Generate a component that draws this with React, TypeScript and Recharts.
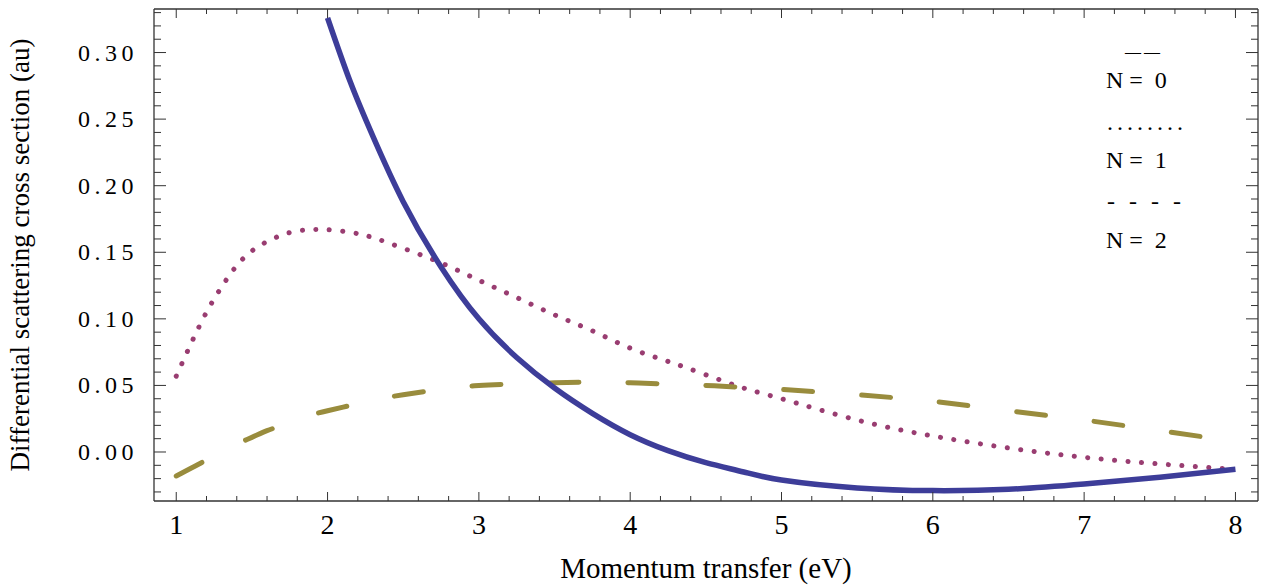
import React from 'react';
import { LineChart, Line, XAxis, YAxis, Legend } from 'recharts';

// ---- data ----
const xValues = [1, 1.1, 1.2, 1.3, 1.4, 1.5, 1.6, 1.7, 1.8, 1.9, 2, 2.15, 2.3, 2.5, 2.75, 3, 3.25, 3.5, 3.75, 4, 4.25, 4.5, 4.75, 5, 5.5, 6, 6.5, 7, 7.5, 8];
const n0Values: (number | null)[] = [null, null, null, null, null, null, null, null, null, null, 0.326, 0.278, 0.237, 0.188, 0.139, 0.1, 0.071, 0.048, 0.029, 0.013, 0.001, -0.008, -0.015, -0.021, -0.027, -0.029, -0.028, -0.024, -0.019, -0.013];
const n1Values = [0.057, 0.082, 0.105, 0.124, 0.14, 0.151, 0.158, 0.163, 0.166, 0.167, 0.167, 0.165, 0.161, 0.153, 0.142, 0.129, 0.116, 0.103, 0.091, 0.078, 0.068, 0.058, 0.048, 0.04, 0.024, 0.012, 0.003, -0.004, -0.009, -0.013];
const n2Values = [-0.018, -0.012, -0.006, 0.0, 0.006, 0.011, 0.016, 0.02, 0.024, 0.028, 0.031, 0.035, 0.039, 0.043, 0.047, 0.05, 0.051, 0.052, 0.0525, 0.052, 0.051, 0.05, 0.0485, 0.047, 0.043, 0.038, 0.031, 0.024, 0.016, 0.008];

const seriesNames = ['N = \u00a00', 'N = \u00a01', 'N = \u00a02'];
const legendGlyphs = ['\u2014\u2014', '........', '- - - -'];

const xMajorTicks = [1, 2, 3, 4, 5, 6, 7, 8];
const xTickLabels = ['1', '2', '3', '4', '5', '6', '7', '8'];
const yMajorTicks = [0, 0.05, 0.1, 0.15, 0.2, 0.25, 0.3];
const yTickLabels = ['0.00', '0.05', '0.10', '0.15', '0.20', '0.25', '0.30'];
const xAllTicks = Array.from({ length: 36 }, (_, i) => +(1 + i * 0.2).toFixed(1));
const yAllTicks = Array.from({ length: 37 }, (_, i) => +(-0.03 + i * 0.01).toFixed(2));

const xDomain: [number, number] = [0.853, 8.149];
const yDomain: [number, number] = [-0.0368, 0.3327];

const data = xValues.map((x, i) => ({ x, n0: n0Values[i], n1: n1Values[i], n2: n2Values[i] }));

// ---- style ----
const FONT = "'Liberation Serif', 'Times New Roman', serif";
const FRAME = '#333';
const BLUE = '#3d3d99';
const PURPLE = '#993d71';
const OLIVE = '#998c3d';

const near = (a: number, b: number, eps: number) => Math.abs(a - b) < eps;
const xLabelOf = (v: number) => {
  const i = xMajorTicks.findIndex((m) => near(m, v, 1e-6));
  return i >= 0 ? xTickLabels[i] : null;
};
const yLabelOf = (v: number) => {
  const i = yMajorTicks.findIndex((m) => near(m, v, 1e-6));
  return i >= 0 ? yTickLabels[i] : null;
};

const BottomTick = (props: any) => {
  const { x, y, payload } = props;
  const lab = xLabelOf(payload.value);
  return (
    <g>
      <line x1={x} x2={x} y1={y} y2={y - (lab ? 9 : 5)} stroke={FRAME} strokeWidth={1} />
      {lab && (
        <text x={x} y={y + 33} textAnchor="middle" fontFamily={FONT} fontSize={28} fill="#000">
          {lab}
        </text>
      )}
    </g>
  );
};
const TopTick = (props: any) => {
  const { x, y, payload } = props;
  const lab = xLabelOf(payload.value);
  return <line x1={x} x2={x} y1={y} y2={y + (lab ? 9 : 5)} stroke={FRAME} strokeWidth={1} />;
};
const LeftTick = (props: any) => {
  const { x, y, payload } = props;
  const lab = yLabelOf(payload.value);
  return (
    <g>
      <line x1={x} x2={x + (lab ? 12 : 7)} y1={y} y2={y} stroke={FRAME} strokeWidth={1} />
      {lab && (
        <text x={x - 16} y={y + 8} textAnchor="end" fontFamily={FONT} fontSize={24} letterSpacing={4.5} fill="#000">
          {lab}
        </text>
      )}
    </g>
  );
};
const RightTick = (props: any) => {
  const { x, y, payload } = props;
  const lab = yLabelOf(payload.value);
  return <line x1={x} x2={x - (lab ? 12 : 7)} y1={y} y2={y} stroke={FRAME} strokeWidth={1} />;
};

const YLabel = (props: any) => {
  const vb = props.viewBox || {};
  const cx = (vb.x ?? 0) + 20;
  const cy = (vb.y ?? 0) + (vb.height ?? 0) / 2;
  return (
    <text x={cx} y={cy} transform={`rotate(-90, ${cx}, ${cy})`} textAnchor="middle" dominantBaseline="central" fontFamily={FONT} fontSize={27} fill="#000">
      Differential scattering cross section (au)
    </text>
  );
};
const XLabel = (props: any) => {
  const vb = props.viewBox || {};
  const cx = (vb.x ?? 0) + (vb.width ?? 0) / 2;
  const y = (vb.y ?? 0) + 77;
  return (
    <text x={cx} y={y} textAnchor="middle" fontFamily={FONT} fontSize={29} fill="#000">
      Momentum transfer (eV)
    </text>
  );
};

const LegendContent = () => (
  <svg width={160} height={230} style={{ display: 'block', overflow: 'visible' }}>
    {seriesNames.map((name, i) => {
      const base = i * 80;
      const glyph = legendGlyphs[i];
      const glyphStyle =
        i === 0
          ? { fontSize: 16, letterSpacing: 3, y: base + 27, x: 19 }
          : i === 1
          ? { fontSize: 24, letterSpacing: 4, y: base + 20, x: 1 }
          : { fontSize: 24, letterSpacing: 4, y: base + 19, x: 1 };
      return (
        <g key={i}>
          <text x={glyphStyle.x} y={glyphStyle.y} fontFamily={FONT} fontSize={glyphStyle.fontSize} letterSpacing={glyphStyle.letterSpacing} fill="#000" style={{ whiteSpace: 'pre' }}>
            {glyph}
          </text>
          <text x={0} y={base + 58} fontFamily={FONT} fontSize={24} fill="#000" style={{ whiteSpace: 'pre' }}>
            {name}
          </text>
        </g>
      );
    })}
  </svg>
);

export default function App() {
  return (
    <div style={{ position: 'absolute', left: 0, top: 0, width: 1261, height: 588, background: '#fff' }}>
      <LineChart width={1261} height={588} data={data} margin={{ top: 0, right: 0, bottom: 0, left: 0 }}>
        <XAxis
          xAxisId="b"
          dataKey="x"
          type="number"
          orientation="bottom"
          domain={xDomain}
          allowDataOverflow
          ticks={xAllTicks}
          interval={0}
          height={87}
          tickSize={0}
          tickMargin={0}
          tickLine={false}
          axisLine={{ stroke: FRAME, strokeWidth: 1.3 }}
          tick={<BottomTick />}
          label={<XLabel />}
        />
        <XAxis
          xAxisId="t"
          dataKey="x"
          type="number"
          orientation="top"
          domain={xDomain}
          allowDataOverflow
          ticks={xAllTicks}
          interval={0}
          height={9}
          tickSize={0}
          tickMargin={0}
          tickLine={false}
          axisLine={{ stroke: FRAME, strokeWidth: 1.3 }}
          tick={<TopTick />}
        />
        <YAxis
          yAxisId="l"
          type="number"
          orientation="left"
          domain={yDomain}
          allowDataOverflow
          ticks={yAllTicks}
          interval={0}
          width={154}
          tickSize={0}
          tickMargin={0}
          tickLine={false}
          axisLine={{ stroke: FRAME, strokeWidth: 1.3 }}
          tick={<LeftTick />}
          label={<YLabel />}
        />
        <YAxis
          yAxisId="r"
          type="number"
          orientation="right"
          domain={yDomain}
          allowDataOverflow
          ticks={yAllTicks}
          interval={0}
          width={3}
          tickSize={0}
          tickMargin={0}
          tickLine={false}
          axisLine={{ stroke: FRAME, strokeWidth: 1.3 }}
          tick={<RightTick />}
        />
        <Legend
          layout="vertical"
          align="center"
          verticalAlign="middle"
          content={<LegendContent />}
          wrapperStyle={{ position: 'absolute', left: 1106, top: 30, width: 160, height: 230 }}
        />
        <Line xAxisId="b" yAxisId="l" dataKey="n1" name={seriesNames[1]} type="natural" stroke={PURPLE} strokeWidth={5} strokeDasharray="0.1 13.4" strokeLinecap="round" dot={false} activeDot={false} isAnimationActive={false} />
        <Line xAxisId="b" yAxisId="l" dataKey="n2" name={seriesNames[2]} type="natural" stroke={OLIVE} strokeWidth={5} strokeDasharray="29 49" strokeLinecap="round" dot={false} activeDot={false} isAnimationActive={false} />
        <Line xAxisId="b" yAxisId="l" dataKey="n0" name={seriesNames[0]} type="natural" stroke={BLUE} strokeWidth={5.5} dot={false} activeDot={false} isAnimationActive={false} connectNulls={false} />
      </LineChart>
    </div>
  );
}
